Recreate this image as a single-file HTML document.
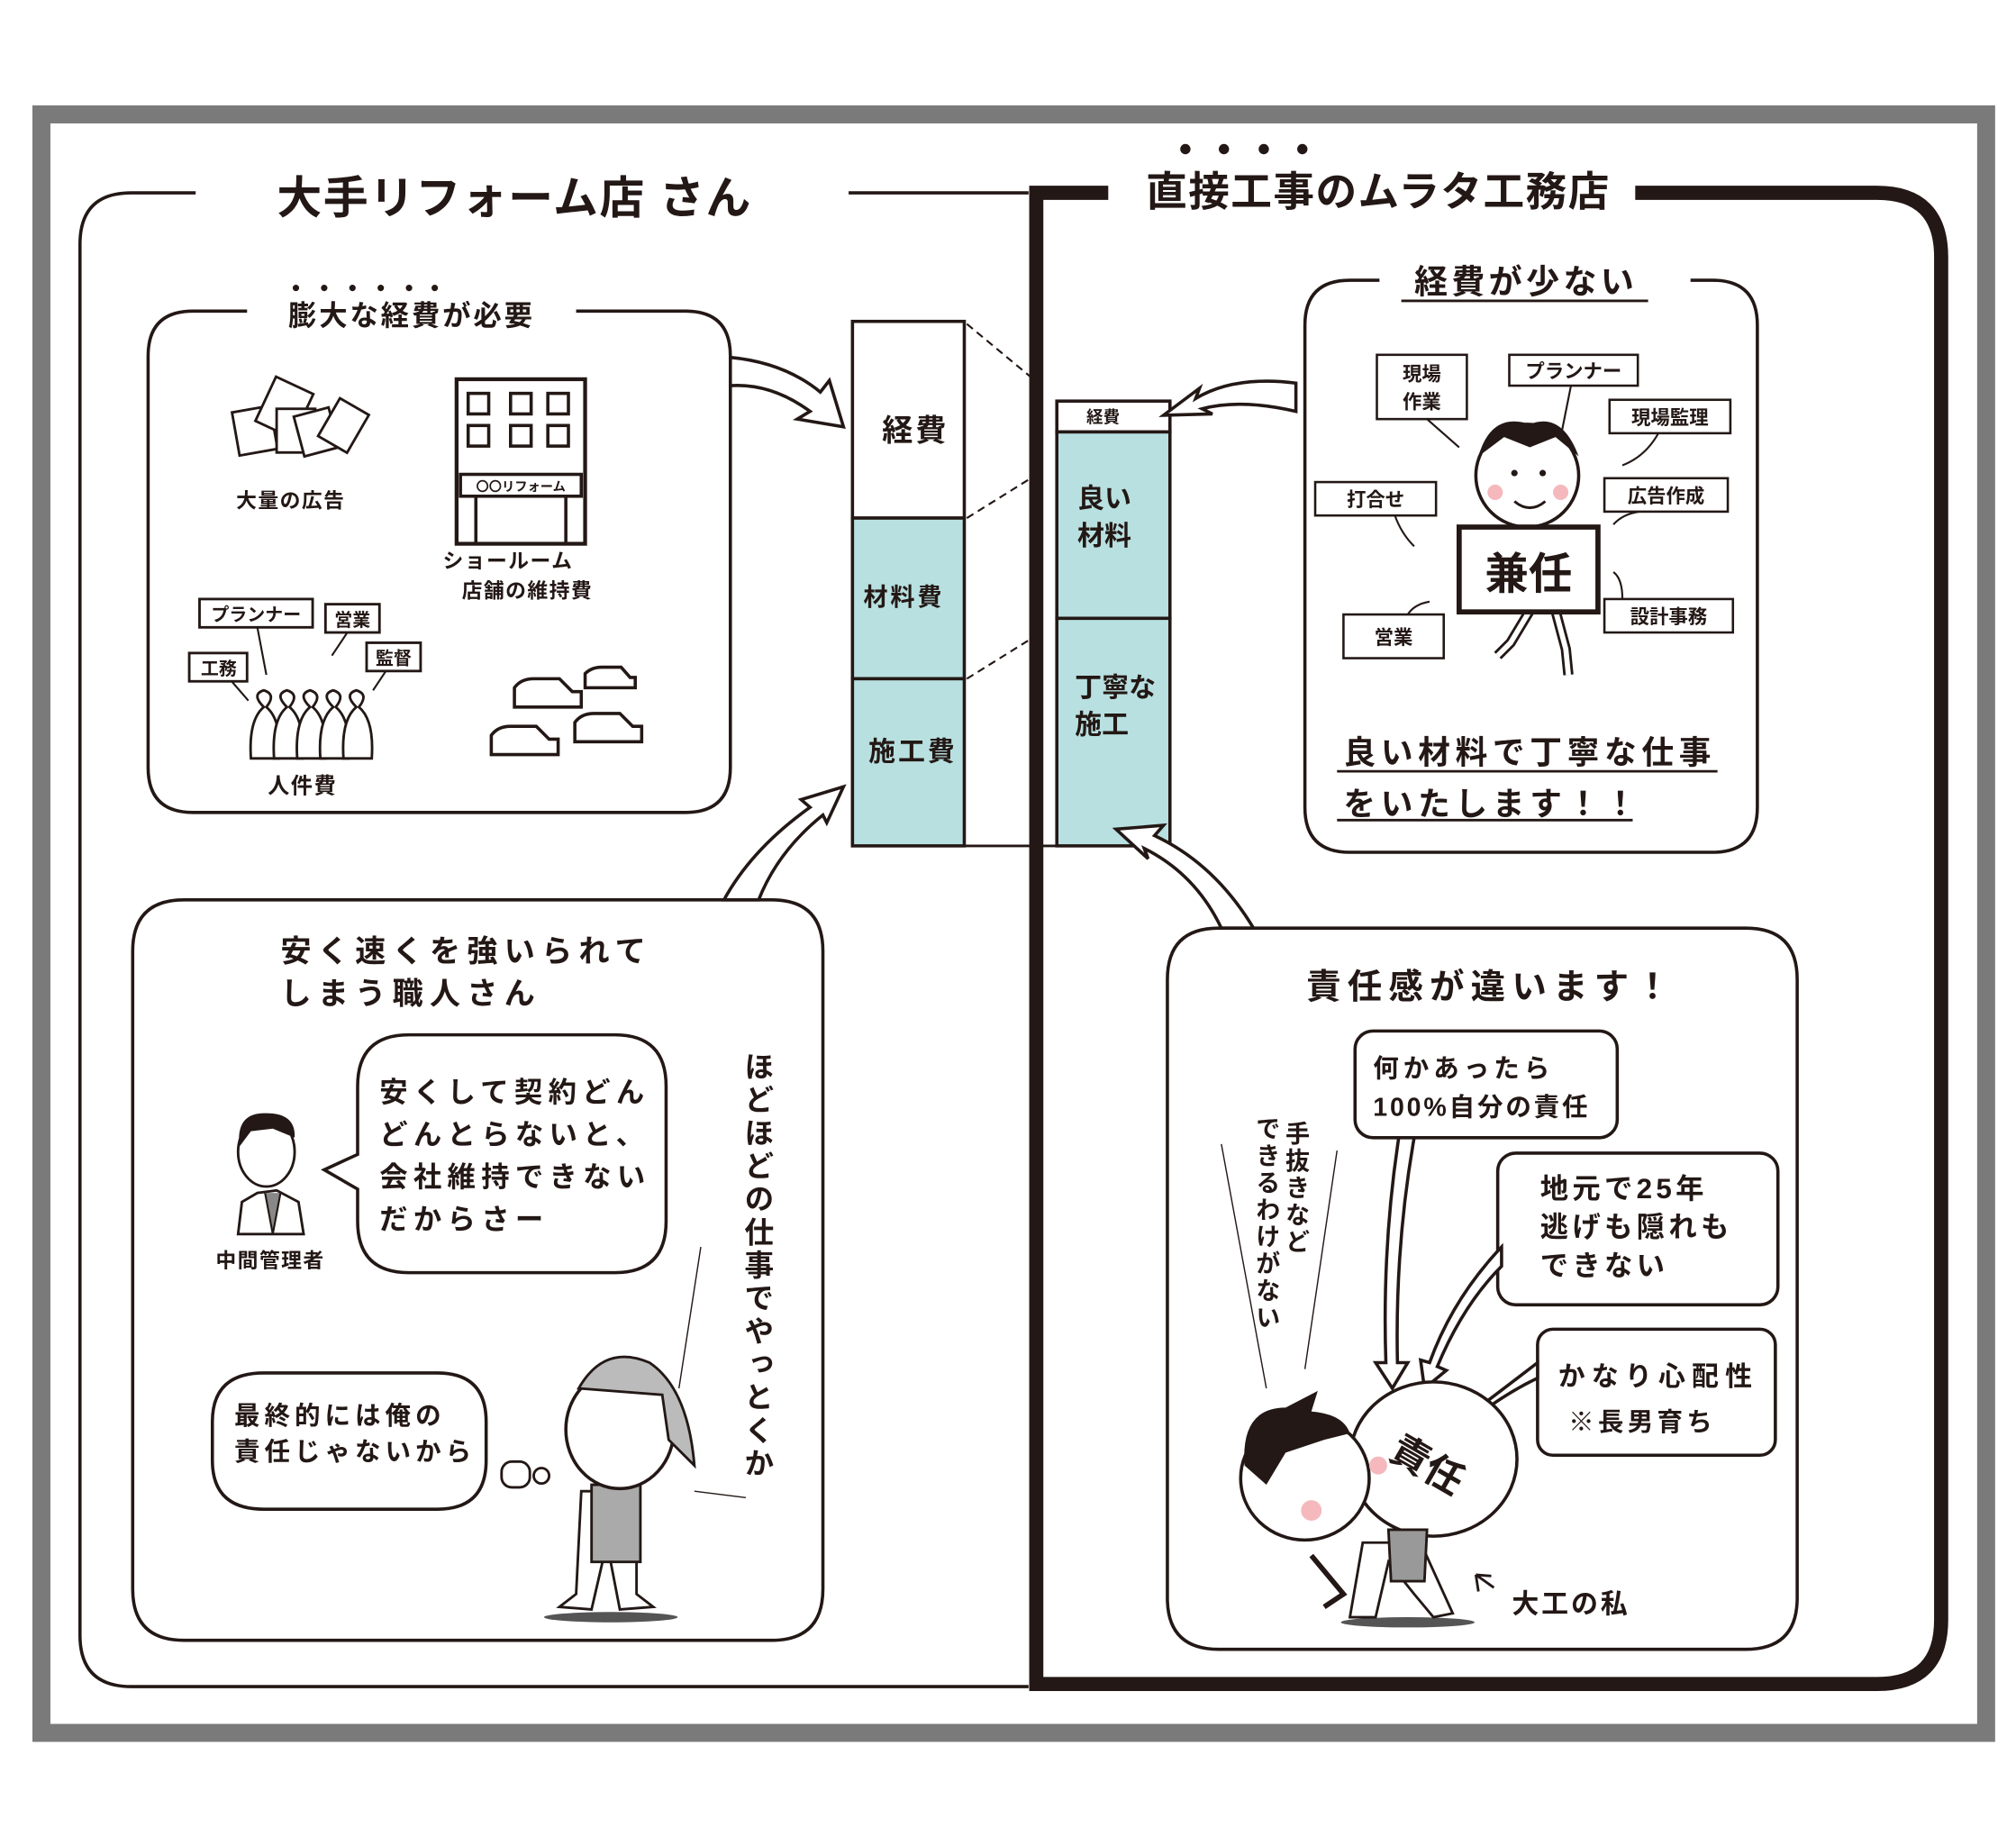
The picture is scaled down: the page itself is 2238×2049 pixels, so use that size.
<!DOCTYPE html>
<html><head><meta charset="utf-8"><style>
html,body{margin:0;padding:0;background:#fff}
svg{display:block}
text{font-family:"Liberation Sans","Noto Sans CJK JP",sans-serif;font-weight:bold;fill:#231815}
</style></head><body>
<svg width="2238" height="2049" viewBox="0 0 1568 1436" xmlns="http://www.w3.org/2000/svg">
<rect x="0" y="0" width="1568" height="1436" fill="#fff"/>
<rect x="32" y="89" width="1513" height="1259" fill="none" stroke="#7a7a7a" stroke-width="14"/>
<path d="M152 150 H102 Q62 150 62 190 V1272 Q62 1312 102 1312 H800" fill="none" stroke="#231815" stroke-width="2.5"/>
<path d="M660 150 H800" fill="none" stroke="#231815" stroke-width="2.5"/>
<text x="400" y="166" font-size="35" text-anchor="middle" letter-spacing="1">大手リフォーム店 さん</text>
<path d="M862 150 H806 V1310 H1460 Q1510 1310 1510 1260 V200 Q1510 150 1460 150 H1272" fill="none" stroke="#231815" stroke-width="11"/>
<text x="1072" y="160" font-size="32" text-anchor="middle" letter-spacing="1">直接工事のムラタ工務店</text>
<g fill="#231815"><circle cx="922" cy="116" r="4"/><circle cx="952" cy="116" r="4"/><circle cx="983" cy="116" r="4"/><circle cx="1013" cy="116" r="4"/></g>

<path d="M192 242 H150 Q115 242 115 277 V597 Q115 632 150 632 H533 Q568 632 568 597 V277 Q568 242 533 242 H448" fill="none" stroke="#231815" stroke-width="2.5"/>
<text x="320" y="253" font-size="22" text-anchor="middle" letter-spacing="2">膨大な経費が必要</text>
<g fill="#231815"><circle cx="230" cy="224" r="2.5"/><circle cx="252" cy="224" r="2.5"/><circle cx="274" cy="224" r="2.5"/><circle cx="296" cy="224" r="2.5"/><circle cx="318" cy="224" r="2.5"/><circle cx="338" cy="224" r="2.5"/></g>
<g fill="#fff" stroke="#231815" stroke-width="2">
<rect x="183" y="318" width="30" height="34" transform="rotate(-10 198 335)"/>
<rect x="205" y="298" width="32" height="38" transform="rotate(25 221 317)"/>
<rect x="215" y="318" width="30" height="34"/>
<rect x="232" y="320" width="28" height="32" transform="rotate(-15 246 336)"/>
<rect x="254" y="314" width="26" height="34" transform="rotate(30 267 331)"/>
</g>
<text x="226" y="395" font-size="16" text-anchor="middle" letter-spacing="1">大量の広告</text>
<rect x="355" y="295" width="100" height="128" fill="#fff" stroke="#231815" stroke-width="3"/>
<g fill="none" stroke="#231815" stroke-width="2.5">
<rect x="364" y="306" width="16" height="16"/><rect x="397" y="306" width="16" height="16"/><rect x="426" y="306" width="16" height="16"/>
<rect x="364" y="331" width="16" height="16"/><rect x="397" y="331" width="16" height="16"/><rect x="426" y="331" width="16" height="16"/>
<rect x="358" y="369" width="94" height="17"/><path d="M370 386 V423 M440 386 V423"/></g>
<text x="405" y="382" font-size="10" text-anchor="middle">〇〇リフォーム</text>
<text x="395" y="442" font-size="16" text-anchor="middle" letter-spacing="1">ショールーム</text>
<text x="410" y="465" font-size="16" text-anchor="middle" letter-spacing="1">店舗の維持費</text>
<g fill="#fff" stroke="#231815" stroke-width="2">
<path d="M195 590 Q193 560 205 550 Q195 540 205 537 Q215 540 207 550 Q219 560 217 590Z"/>
<path d="M213 590 Q211 560 223 550 Q213 540 223 537 Q233 540 225 550 Q237 560 235 590Z"/>
<path d="M231 590 Q229 560 241 550 Q231 540 241 537 Q251 540 243 550 Q255 560 253 590Z"/>
<path d="M249 590 Q247 560 259 550 Q249 540 259 537 Q269 540 261 550 Q273 560 271 590Z"/>
<path d="M267 590 Q265 560 277 550 Q267 540 277 537 Q287 540 279 550 Q291 560 289 590Z"/>
<rect x="155" y="466" width="88" height="22"/><rect x="253" y="470" width="42" height="22"/>
<rect x="147" y="508" width="45" height="22"/><rect x="285" y="500" width="42" height="22"/>
</g>
<g stroke="#231815" stroke-width="1.5"><path d="M200 488 L207 525 M270 492 L258 510 M180 530 L193 545 M300 522 L290 537"/></g>
<text x="199" y="483" font-size="14" text-anchor="middle">プランナー</text>
<text x="274" y="487" font-size="14" text-anchor="middle">営業</text>
<text x="170" y="525" font-size="14" text-anchor="middle">工務</text>
<text x="306" y="517" font-size="14" text-anchor="middle">監督</text>
<text x="235" y="617" font-size="17" text-anchor="middle" letter-spacing="1">人件費</text>
<g fill="#fff" stroke="#231815" stroke-width="2.5">
<path d="M400 550 V535 Q405 528 415 528 H435 L445 538 H452 V550Z"/>
<path d="M455 535 V524 Q460 519 468 519 H483 L490 527 H494 V535Z"/>
<path d="M382 587 V572 Q387 565 397 565 H417 L427 575 H434 V587Z"/>
<path d="M447 577 V562 Q452 555 462 555 H482 L492 565 H499 V577Z"/>
</g>
<path d="M568 278 Q610 282 638 305 L645 296 L656 332 L620 326 L630 320 Q600 298 568 300Z" fill="#fff" stroke="#231815" stroke-width="2.5"/>

<rect x="663" y="250" width="87" height="153" fill="#fff" stroke="#231815" stroke-width="2.5"/>
<rect x="663" y="403" width="87" height="125" fill="#b8e0e0" stroke="#231815" stroke-width="2.5"/>
<rect x="663" y="528" width="87" height="130" fill="#b8e0e0" stroke="#231815" stroke-width="2.5"/>
<text x="712" y="343" font-size="24" text-anchor="middle" letter-spacing="2">経費</text>
<text x="703" y="471" font-size="19" text-anchor="middle" letter-spacing="2">材料費</text>
<text x="710" y="592" font-size="21" text-anchor="middle" letter-spacing="2">施工費</text>
<path d="M750 658 H822" stroke="#231815" stroke-width="2"/>
<g stroke="#231815" stroke-width="1.5" stroke-dasharray="6 4"><path d="M752 252 L805 296 M752 403 L805 370 M752 528 L805 495"/></g>
<rect x="822" y="312" width="88" height="24" fill="#fff" stroke="#231815" stroke-width="2.5"/>
<rect x="822" y="336" width="88" height="145" fill="#b8e0e0" stroke="#231815" stroke-width="2.5"/>
<rect x="822" y="481" width="88" height="177" fill="#b8e0e0" stroke="#231815" stroke-width="2.5"/>
<text x="858" y="329" font-size="13" text-anchor="middle">経費</text>
<text x="838" y="395" font-size="21">良い</text>
<text x="838" y="424" font-size="21">材料</text>
<text x="836" y="542" font-size="21">丁寧な</text>
<text x="836" y="571" font-size="21">施工</text>
<path d="M1008 298 Q960 292 930 310 L933 302 L905 323 L943 322 L935 318 Q965 310 1008 320Z" fill="#fff" stroke="#231815" stroke-width="2.5"/>
<path d="M563 700 Q585 660 630 628 L623 622 L656 612 L643 640 L640 634 Q605 662 590 700Z" fill="#fff" stroke="#231815" stroke-width="2.5"/>
<path d="M950 722 Q930 680 890 660 L893 668 L868 645 L905 642 L898 650 Q945 672 975 722Z" fill="#fff" stroke="#231815" stroke-width="2.5"/>

<path d="M1073 218 H1050 Q1015 218 1015 253 V628 Q1015 663 1050 663 H1332 Q1367 663 1367 628 V253 Q1367 218 1332 218 H1315" fill="none" stroke="#231815" stroke-width="2.5"/>
<text x="1187" y="228" font-size="26" text-anchor="middle" letter-spacing="3">経費が少ない</text>
<path d="M1090 234 H1282" stroke="#231815" stroke-width="2"/>
<g fill="#fff" stroke="#231815" stroke-width="1.8">
<rect x="1071" y="276" width="70" height="50"/><rect x="1174" y="276" width="100" height="24"/>
<rect x="1252" y="311" width="94" height="26"/><rect x="1023" y="375" width="94" height="26"/>
<rect x="1248" y="372" width="96" height="26"/><rect x="1045" y="478" width="78" height="34"/>
<rect x="1248" y="466" width="100" height="26"/>
</g>
<g stroke="#231815" stroke-width="1.5" fill="none"><path d="M1110 326 L1135 348 M1222 300 L1215 335 M1290 337 Q1280 355 1262 362 M1085 401 Q1090 415 1100 425 M1275 398 Q1262 400 1255 408 M1095 478 Q1100 470 1112 468 M1262 466 Q1262 450 1255 445"/></g>
<text x="1106" y="296" font-size="15" text-anchor="middle">現場</text>
<text x="1106" y="318" font-size="15" text-anchor="middle">作業</text>
<text x="1224" y="294" font-size="15" text-anchor="middle">プランナー</text>
<text x="1299" y="330" font-size="15" text-anchor="middle">現場監理</text>
<text x="1070" y="394" font-size="15" text-anchor="middle">打合せ</text>
<text x="1296" y="391" font-size="15" text-anchor="middle">広告作成</text>
<text x="1084" y="501" font-size="15" text-anchor="middle">営業</text>
<text x="1298" y="485" font-size="15" text-anchor="middle">設計事務</text>
<circle cx="1188" cy="370" r="40" fill="#fff" stroke="#231815" stroke-width="2.5"/>
<path d="M1150 355 Q1160 320 1190 330 Q1215 320 1228 355 L1210 340 L1190 348 L1170 340Z" fill="#231815"/>
<circle cx="1163" cy="383" r="6" fill="#f5b9bd"/><circle cx="1214" cy="383" r="6" fill="#f5b9bd"/>
<circle cx="1178" cy="368" r="2.5" fill="#231815"/><circle cx="1200" cy="368" r="2.5" fill="#231815"/>
<path d="M1178 390 Q1190 400 1202 390" fill="none" stroke="#231815" stroke-width="2"/>
<path d="M1190 475 L1175 500 L1165 510 M1210 475 L1218 505 L1220 525" fill="none" stroke="#231815" stroke-width="8"/>
<path d="M1190 475 L1175 500 L1165 510 M1210 475 L1218 505 L1220 525" fill="none" stroke="#fff" stroke-width="4"/>
<rect x="1135" y="410" width="108" height="66" fill="#fff" stroke="#231815" stroke-width="4"/>
<text x="1189" y="458" font-size="34" text-anchor="middle">兼任</text>
<text x="1190" y="594" font-size="25" text-anchor="middle" letter-spacing="4">良い材料で丁寧な仕事</text>
<path d="M1040 600 H1336" stroke="#231815" stroke-width="2"/>
<text x="1045" y="634" font-size="25" letter-spacing="4">をいたします！！</text>
<path d="M1040 638 H1270" stroke="#231815" stroke-width="2"/>

<path d="M143 700 H600 Q640 700 640 740 V1236 Q640 1276 600 1276 H143 Q103 1276 103 1236 V740 Q103 700 143 700Z" fill="none" stroke="#231815" stroke-width="2.5"/>
<text x="218" y="748" font-size="24" letter-spacing="5">安く速くを強いられて</text>
<text x="218" y="781" font-size="24" letter-spacing="5">しまう職人さん</text>
<path d="M318 805 H478 Q518 805 518 845 V950 Q518 990 478 990 H318 Q278 990 278 950 V925 L252 910 L278 898 V845 Q278 805 318 805Z" fill="#fff" stroke="#231815" stroke-width="2.5"/>
<text x="295" y="857" font-size="22" letter-spacing="4.4">安くして契約どん</text>
<text x="295" y="890" font-size="22" letter-spacing="4.4">どんとらないと、</text>
<text x="295" y="923" font-size="22" letter-spacing="4.4">会社維持できない</text>
<text x="295" y="956" font-size="22" letter-spacing="4.4">だからさー</text>
<path d="M185 960 L188 935 L200 928 L215 926 L232 935 L236 960Z" fill="#fff" stroke="#231815" stroke-width="2"/>
<path d="M206 928 L212 960 L218 928" fill="#888" stroke="#231815" stroke-width="1.5"/>
<ellipse cx="207" cy="896" rx="22" ry="27" fill="#fff" stroke="#231815" stroke-width="2"/>
<path d="M186 892 Q183 865 207 866 Q230 866 229 885 L212 878 L195 880Z" fill="#231815"/>
<text x="210" y="986" font-size="16" text-anchor="middle" letter-spacing="1">中間管理者</text>
<path d="M205 1068 H340 Q378 1068 378 1106 V1136 Q378 1174 340 1174 H205 Q165 1174 165 1136 V1106 Q165 1068 205 1068Z" fill="#fff" stroke="#231815" stroke-width="2.5"/>
<text x="182" y="1108" font-size="20" letter-spacing="3.5">最終的には俺の</text>
<text x="182" y="1136" font-size="20" letter-spacing="3.5">責任じゃないから</text>
<rect x="390" y="1137" width="22" height="20" rx="8" fill="#fff" stroke="#231815" stroke-width="2"/>
<circle cx="421" cy="1148" r="6" fill="#fff" stroke="#231815" stroke-width="2"/>
<text font-size="23" x="589" y="818" letter-spacing="2.7" style="writing-mode:vertical-rl">ほどほどの仕事でやっとくか</text>
<path d="M545 970 L528 1080 M540 1160 L580 1165" stroke="#231815" stroke-width="1"/>
<ellipse cx="475" cy="1258" rx="52" ry="4" fill="#555"/>
<path d="M452 1160 L448 1240 L435 1250 L460 1252 L472 1200 L482 1252 L508 1250 L495 1240 L495 1160Z" fill="#fff" stroke="#231815" stroke-width="2"/>
<rect x="460" y="1155" width="38" height="60" fill="#aaa" stroke="#231815" stroke-width="2"/>
<ellipse cx="482" cy="1112" rx="42" ry="46" fill="#fff" stroke="#231815" stroke-width="2.5"/>
<path d="M450 1080 Q470 1045 505 1060 Q535 1080 540 1140 L520 1120 L515 1085Z" fill="#bbb" stroke="#231815" stroke-width="2"/>

<path d="M948 722 H1358 Q1398 722 1398 762 V1243 Q1398 1283 1358 1283 H948 Q908 1283 908 1243 V762 Q908 722 948 722Z" fill="none" stroke="#231815" stroke-width="2.5"/>
<text x="1160" y="777" font-size="27" text-anchor="middle" letter-spacing="5">責任感が違います！</text>
<rect x="1054" y="802" width="204" height="83" rx="14" fill="#fff" stroke="#231815" stroke-width="2.5"/>
<text x="1068" y="838" font-size="20" letter-spacing="3.5">何かあったら</text>
<text x="1068" y="868" font-size="20" letter-spacing="2">100%自分の責任</text>
<rect x="1165" y="897" width="218" height="118" rx="14" fill="#fff" stroke="#231815" stroke-width="2.5"/>
<text x="1198" y="932" font-size="22" letter-spacing="3">地元で25年</text>
<text x="1198" y="962" font-size="22" letter-spacing="3">逃げも隠れも</text>
<text x="1198" y="992" font-size="22" letter-spacing="3">できない</text>
<rect x="1196" y="1034" width="185" height="98" rx="12" fill="#fff" stroke="#231815" stroke-width="2.5"/>
<text x="1212" y="1078" font-size="21" letter-spacing="5">かなり心配性</text>
<text x="1220" y="1113" font-size="20" letter-spacing="3">※長男育ち</text>
<g fill="#fff" stroke="#231815" stroke-width="2.5">
<path d="M1088 885 Q1075 970 1078 1060 L1070 1060 L1083 1080 L1095 1060 L1087 1060 Q1085 970 1100 885Z"/>
<path d="M1168 970 Q1130 1010 1112 1060 L1105 1058 L1108 1080 L1125 1066 L1118 1063 Q1138 1015 1168 985Z"/>
<path d="M1196 1060 Q1170 1080 1150 1095 L1145 1088 L1138 1108 L1158 1103 L1153 1098 Q1175 1082 1196 1072Z"/>
</g>
<text font-size="19" x="1008" y="872" letter-spacing="2" style="writing-mode:vertical-rl">手抜きなど</text>
<text font-size="19" x="985" y="868" letter-spacing="2" style="writing-mode:vertical-rl">できるわけがない</text>
<path d="M950 890 L985 1080 M1040 895 L1015 1065" stroke="#231815" stroke-width="1"/>
<ellipse cx="1095" cy="1262" rx="52" ry="4" fill="#555"/>
<ellipse cx="1115" cy="1135" rx="65" ry="60" fill="#fff" stroke="#231815" stroke-width="2.5"/>
<text x="1110" y="1150" font-size="30" transform="rotate(30 1110 1140)" text-anchor="middle">責任</text>
<path d="M1060 1200 L1050 1258 L1070 1258 L1080 1215 L1100 1240 L1115 1258 L1130 1255 L1105 1200Z" fill="#fff" stroke="#231815" stroke-width="2"/>
<path d="M1080 1190 L1110 1190 L1108 1230 L1082 1230Z" fill="#999" stroke="#231815" stroke-width="2"/>
<ellipse cx="1015" cy="1150" rx="50" ry="48" fill="#fff" stroke="#231815" stroke-width="2.5"/>
<path d="M968 1140 Q965 1095 1000 1095 L1025 1082 L1020 1098 Q1045 1100 1050 1115 L1030 1120 L1000 1130 L985 1155Z" fill="#231815"/>
<circle cx="1020" cy="1175" r="8" fill="#f5b9bd"/><circle cx="1072" cy="1140" r="7" fill="#f5b9bd"/>
<path d="M1020 1210 L1045 1240 L1030 1250" fill="none" stroke="#231815" stroke-width="4"/>
<path d="M1148 1225 L1162 1235 M1148 1225 L1150 1238 M1148 1225 L1160 1226" stroke="#231815" stroke-width="2"/>
<text x="1176" y="1255" font-size="21" letter-spacing="2">大工の私</text>
</svg>
</body></html>
